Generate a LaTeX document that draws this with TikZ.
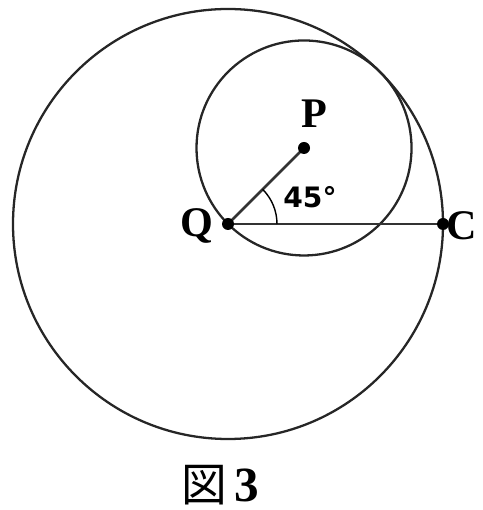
\documentclass[tikz,border=0pt]{standalone}
\usepackage{fontspec}
\setmainfont{Liberation Serif}
\newfontfamily\jpfont{Noto Sans CJK JP}
\newfontfamily\degfont{DejaVu Sans}
\usepackage{tikz}
\usetikzlibrary{positioning}

\tikzset{
  circ/.style={line width=1.3pt, draw=black!85},
  seg/.style={line width=1.6pt, draw=black!80},
  dot/.style={circle, fill=black, inner sep=0pt, minimum size=2.4mm},
  ptlabel/.style={font=\fontsize{24}{24}\selectfont\bfseries, inner sep=0pt}
}

\begin{document}
\begin{tikzpicture}[x=1cm, y=1cm]
  \useasboundingbox (-4.56,-5.72) rectangle (5.08,4.48);
  \coordinate (Q) at (0,0);
  \coordinate (C) at (4.3,0);
  \coordinate (P) at (45:2.15);
  % circles
  \draw[circ] (Q) circle (4.3);
  \draw[circ] (P) circle (2.15);
  % segments
  \draw[seg] (Q) -- (C);
  \draw[seg] (Q) -- (P);
  \draw[line width=0.8pt] (0.98,0) arc (0:45:0.98);
  % points
  \node[dot] (dQ) at (Q) {};
  \node[dot] (dP) at (P) {};
  \node[dot] (dC) at (C) {};
  \node[ptlabel] (lQ) at (-0.62,-0.04) {Q};
  \node[ptlabel] (lP) at (1.72,2.2) {P};
  \node[ptlabel, anchor=west] (lC) at (4.36,-0.04) {C};
  \node[font=\degfont\fontsize{16}{16}\selectfont\bfseries, inner sep=0pt] (ang) at (1.64,0.54) {45°};
  \node[inner sep=0pt] (cap) at (-0.16,-5.22) {{\jpfont\fontsize{26}{26}\selectfont 図}\hspace{1.5mm}{\fontsize{28}{28}\selectfont\bfseries 3}};
\end{tikzpicture}
\end{document}
